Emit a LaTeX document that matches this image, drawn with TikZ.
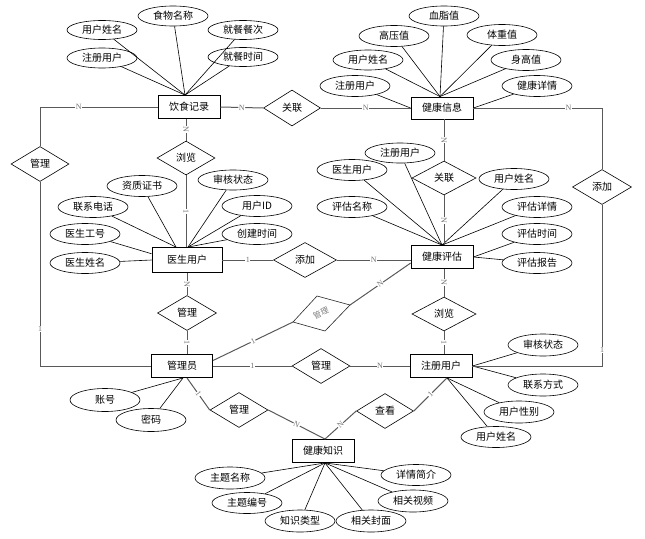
\documentclass[tikz,border=0pt]{standalone}
\usepackage{fontspec}
\setmainfont{Liberation Serif}
\newfontfamily\cjk{Noto Sans CJK SC}
\usetikzlibrary{shapes.geometric,calc}
\begin{document}
\begin{tikzpicture}[x=1pt,y=-1pt,
  ent/.style={draw=black,line width=0.9pt,minimum width=62pt,minimum height=23pt,inner sep=0pt,fill=white,font=\cjk\fontsize{10}{12}\selectfont},
  attr/.style={ellipse,draw=black,line width=0.6pt,minimum width=70pt,minimum height=21pt,inner sep=0pt,fill=white,font=\cjk\fontsize{10}{12}\selectfont},
  rel/.style={diamond,draw=black,line width=0.6pt,minimum width=58pt,minimum height=35pt,inner sep=0pt,fill=white,font=\cjk\fontsize{10}{12}\selectfont},
  conn/.style={draw=black!65,line width=1pt},
  aline/.style={draw=black,line width=0.6pt},
  lblu/.style={font=\fontsize{8}{9}\selectfont,text=black!55,fill=white,inner sep=0.5pt},
  lbl/.style={lblu,sloped}]
\useasboundingbox (0,0) rectangle (645,538);

% entities
\node[ent] (ys) at (189,107) {饮食记录};
\node[ent,minimum height=22pt] (xx) at (442,108) {健康信息};
\node[ent,minimum width=70pt,minimum height=25pt] (dr) at (187,260) {医生用户};
\node[ent] (pg) at (442,257) {健康评估};
\node[ent,minimum width=61pt] (ad) at (182,366) {管理员};
\node[ent] (ru) at (441,366) {注册用户};
\node[ent] (kn) at (323,451) {健康知识};

% relationships
\node[rel] (r1) at (40,164) {管理};
\node[rel,minimum height=34pt] (r2) at (186,158) {浏览};
\node[rel,minimum width=57pt,minimum height=36pt] (r3) at (292,108) {关联};
\node[rel,minimum width=64pt,minimum height=34pt] (r4) at (444,178) {关联};
\node[rel,minimum width=59pt] (r5) at (602,187) {添加};
\node[rel,minimum width=63pt] (r6) at (305,260) {添加};
\node[rel,minimum width=59pt] (r7) at (187,313) {管理};
\node[rel,minimum width=64pt,minimum height=34pt] (r9) at (444,314) {浏览};
\node[rel] (r10) at (321,366) {管理};
\node[rel] (r11) at (239,410) {管理};
\node[rel,minimum width=57pt] (r12) at (385,411) {查看};
% skewed relationship between 管理员 and 健康评估
\coordinate (r8w) at (293,322);
\coordinate (r8n) at (317,296);
\coordinate (r8e) at (350,305);
\coordinate (r8s) at (325,331);
\draw[line width=0.6pt,draw=black!85,fill=white] (r8w) -- (r8n) -- (r8e) -- (r8s) -- cycle;
\node[rotate=24,text=black!50,inner sep=0pt,font=\cjk\fontsize{8}{9}\selectfont] (r8) at (321,313) {管理};

% attributes of 饮食记录
\node[attr,minimum height=19pt] (a1) at (102,30) {用户姓名};
\node[attr,minimum height=20pt] (a2) at (173,16) {食物名称};
\node[attr,minimum height=19pt] (a3) at (243,30) {就餐餐次};
\node[attr,minimum height=20pt] (a4) at (102,58) {注册用户};
\node[attr,minimum height=19pt] (a5) at (243,57) {就餐时间};
% attributes of 健康信息
\node[attr,minimum height=20pt] (b1) at (444,16) {血脂值};
\node[attr] (b2) at (394,36) {高压值};
\node[attr] (b3) at (502,35) {体重值};
\node[attr,minimum height=20pt] (b4) at (368,60) {用户姓名};
\node[attr] (b5) at (526,60) {身高值};
\node[attr] (b6) at (355,86) {注册用户};
\node[attr] (b7) at (537,86) {健康详情};
% attributes of 医生用户
\node[attr] (c1) at (142,186) {资质证书};
\node[attr,minimum height=20pt] (c2) at (233,180) {审核状态};
\node[attr] (c3) at (93,207) {联系电话};
\node[attr] (c4) at (257,206) {{\cjk 用户}ID};
\node[attr] (c5) at (85,234) {医生工号};
\node[attr] (c6) at (257,234) {创建时间};
\node[attr] (c7) at (85,263) {医生姓名};
% attributes of 健康评估
\node[attr,minimum height=20pt] (d1) at (400,153) {注册用户};
\node[attr] (d2) at (352,170) {医生用户};
\node[attr] (d3) at (514,179) {用户姓名};
\node[attr] (d4) at (352,207) {评估名称};
\node[attr] (d5) at (537,207) {评估详情};
\node[attr] (d6) at (537,234) {评估时间};
\node[attr] (d7) at (537,263) {评估报告};
% attributes of 注册用户
\node[attr,minimum height=22pt] (e1) at (543,345) {审核状态};
\node[attr,minimum height=22pt] (e2) at (543,385) {联系方式};
\node[attr,minimum height=22pt] (e3) at (519,412) {用户性别};
\node[attr] (e4) at (496,437) {用户姓名};
% attributes of 管理员
\node[attr,minimum height=23pt] (f1) at (105,400) {账号};
\node[attr,minimum height=23pt] (f2) at (151,420) {密码};
% attributes of 健康知识
\node[attr,minimum height=22pt] (g1) at (230,478) {主题名称};
\node[attr] (g2) at (416,475) {详情简介};
\node[attr] (g3) at (247,503) {主题编号};
\node[attr,minimum height=22pt] (g4) at (413,501) {相关视频};
\node[attr,minimum height=22pt] (g5) at (300,521) {知识类型};
\node[attr,minimum height=22pt] (g6) at (371,521) {相关封面};

% convergence points
\coordinate (ysT) at ($(ys.north)+(-4,0)$);
\coordinate (xxT) at ($(xx.north)+(-2,0)$);
\coordinate (drL) at ($(dr.north)+(-11,0)$);
\coordinate (drR) at ($(dr.north)+(1,0)$);
\coordinate (pgT) at (pg.north);
\coordinate (ruB) at ($(ru.south)+(6,0)$);
\coordinate (adB) at ($(ad.south)+(1,0)$);
\coordinate (knB) at ($(kn.south)+(2,0)$);
\coordinate (knT) at ($(kn.north)+(2,0)$);

% attribute lines
\foreach \n in {a1,a2,a3,a4,a5} \draw[aline] (ysT) -- (\n);
\foreach \n in {b1,b2,b3,b4,b5} \draw[aline] (xxT) -- (\n);
\draw[aline] (xx.west) -- (b6);
\draw[aline] (xx.east) -- (b7);
\foreach \n in {c1,c3} \draw[aline] (drL) -- (\n);
\foreach \n in {c2,c4,c6} \draw[aline] (drR) -- (\n);
\draw[aline] (dr.170) -- (c5);
\draw[aline] (dr.west) -- (c7);
\foreach \n in {d1,d2,d3,d4,d5} \draw[aline] (pgT) -- (\n);
\foreach \n in {d6,d7} \draw[aline] (pg.east) -- (\n);
\foreach \n in {e1,e2} \draw[aline] (ru.east) -- (\n);
\foreach \n in {e3,e4} \draw[aline] (ruB) -- (\n);
\foreach \n in {f1,f2} \draw[aline] (adB) -- (\n);
\foreach \n in {g1,g2,g3,g4,g5,g6} \draw[aline] (knB) -- (\n);

% relationship connectors
\draw[conn] (ys.east) -- node[lbl]{N} (r3.west);
\draw[conn] (r3.east) -- node[lbl]{N} (xx.west);
\draw[conn] (xx.east) -- node[lblu,pos=0.74]{N} (xx.east -| r5.north) -- (r5.north);
\draw[conn] (r5.south) -- node[lblu,pos=0.9]{1} (r5.south |- ru.east) -- (ru.east);
\draw[conn] (ys.west) -- node[lblu,pos=0.67]{N} (ys.west -| r1.north) -- (r1.north);
\draw[conn] (r1.south) -- node[lblu,pos=0.8]{1} (r1.south |- ad.west) -- (ad.west);
\draw[conn] (r2.north |- ys.south) -- node[lbl]{N} (r2.north);
\draw[conn] (r2.south) -- node[lbl]{1} (r2.south |- dr.north);
\draw[conn] (r4.north |- xx.south) -- node[lbl]{N} (r4.north);
\draw[conn] (r4.south) -- node[lbl]{N} (r4.south |- pg.north);
\draw[conn] (dr.east) -- node[lbl]{1} (r6.west);
\draw[conn] (r6.east) -- node[lbl]{N} (r6.east -| pg.west);
\draw[conn] (r7.north |- dr.south) -- node[lbl]{N} (r7.north);
\draw[conn] (r7.south) -- node[lbl]{1} (r7.south |- ad.north);
\draw[conn] (ad.10) -- node[lbl]{1} (r8w);
\draw[conn] (r8e) -- node[lbl]{N} (pg.191);
\draw[conn] (ad.east) -- node[lbl]{1} (r10.west);
\draw[conn] (r10.east) -- node[lbl]{N} (ru.west);
\draw[conn] (r9.north |- pg.south) -- node[lbl]{N} (r9.north);
\draw[conn] (r9.south) -- node[lbl]{1} (r9.south |- ru.north);
\draw[conn] ($(ad.south)+(5,0)$) -- node[lbl]{1} (r11.west);
\draw[conn] (r11.east) -- node[lbl]{N} (knT);
\draw[conn] (ruB) -- node[lbl]{1} (r12.east);
\draw[conn] (r12.west) -- node[lbl]{N} (knT);
\end{tikzpicture}
\end{document}
